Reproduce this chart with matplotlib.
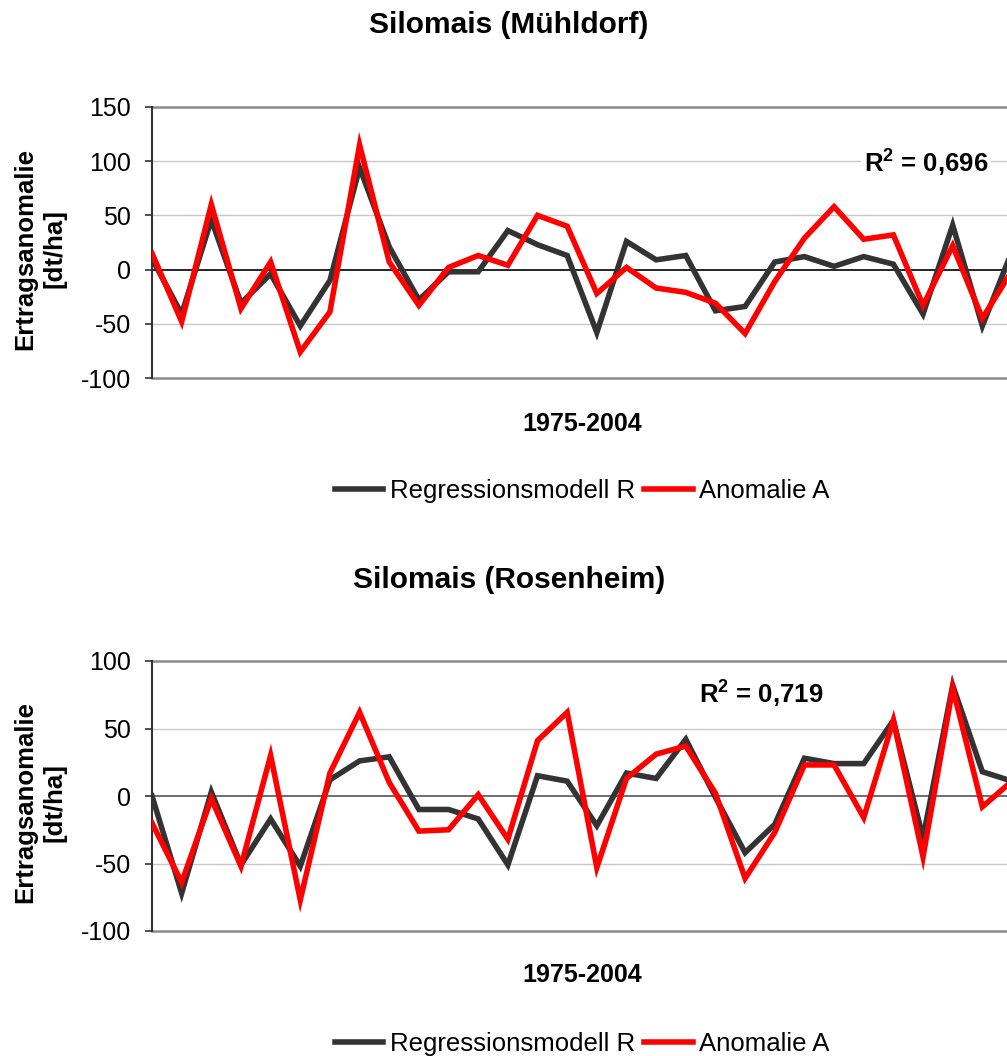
import numpy as np
import matplotlib
matplotlib.use("Agg")
import matplotlib.pyplot as plt

plt.rcParams['font.family'] = ['Liberation Sans', 'DejaVu Sans']
plt.rcParams['mathtext.fontset'] = 'custom'
plt.rcParams['mathtext.bf'] = 'Liberation Sans:bold'
plt.rcParams['mathtext.rm'] = 'Liberation Sans'

years = np.arange(1975, 2005)

# Silomais (Muehldorf)
muehl_regr = [10, -41, 46, -31, -4, -52, -10, 94, 21, -28, -2, -2, 36, 23, 13,
              -58, 26, 9, 13, -38, -34, 7, 12, 3, 12, 5, -41, 41, -52, 17]
muehl_anom = [15, -48, 60, -36, 7, -76, -39, 115, 7, -33, 2, 13, 4, 50, 40,
              -22, 2, -17, -21, -31, -59, -11, 29, 58, 28, 32, -33, 22, -45, -1]

# Silomais (Rosenheim)
rosen_regr = [0, -72, 3, -51, -17, -52, 12, 26, 29, -10, -10, -17, -51, 15, 11,
              -22, 17, 13, 42, -1, -42, -21, 28, 24, 24, 56, -31, 82, 18, 11]
rosen_anom = [-20, -64, -2, -52, 30, -77, 17, 62, 10, -26, -25, 1, -32, 41, 62,
              -53, 13, 31, 37, 2, -61, -27, 23, 23, -16, 56, -45, 80, -8, 11]

W, H = 1007, 1056
fig = plt.figure(figsize=(W / 100, H / 100), dpi=100)


def fx(px):
    return px / W


def fy(py):
    return 1 - py / H


def panel(top, bottom, ymin, ymax, regr, anom, title, title_y, xlab_y, leg_y,
          r2_val, r2_pos, zero_col):
    ax = fig.add_axes([fx(152), fy(bottom), (1012 - 152) / W, (bottom - top) / H])
    ax.set_xlim(1975, 2004)
    ax.set_ylim(ymin, ymax)
    ticks = np.arange(ymin, ymax + 1, 50)
    ax.set_yticks(ticks)
    ax.set_yticklabels([str(t) for t in ticks], fontsize=18)
    ax.set_xticks([])
    for t in ticks:
        if t in (ymin, ymax):
            ax.axhline(t, color='#8a8a8a', lw=1.8, zorder=1, clip_on=False)
        elif t == 0:
            ax.axhline(t, color=zero_col, lw=1.2, zorder=1)
        else:
            ax.axhline(t, color='#c8c8c8', lw=1.0, zorder=1)
    for s in ('top', 'right', 'bottom'):
        ax.spines[s].set_visible(False)
    ax.spines['left'].set_color('#333333')
    ax.spines['left'].set_linewidth(1.5)
    ax.tick_params(axis='y', length=5, width=1.2, color='#333333', pad=10)

    l1, = ax.plot(years, regr, color='#333333', lw=4.0,
                  label='Regressionsmodell R', solid_joinstyle='miter', zorder=3)
    l2, = ax.plot(years, anom, color='#ff0000', lw=4.0, label='Anomalie A',
                  solid_joinstyle='miter', zorder=4)

    ax.text(r2_pos[0], r2_pos[1], r'R$^{\mathbf{2}}$ = ' + r2_val,
            fontsize=18.5, fontweight='bold',
            ha='center', va='center', zorder=5,
            bbox=dict(facecolor='white', edgecolor='none', pad=2))

    fig.text(fx(509), fy(title_y), title, fontsize=21.5, fontweight='bold',
             ha='center', va='center')
    fig.text(fx(582), fy(xlab_y), '1975-2004', fontsize=18, fontweight='bold',
             ha='center', va='center')
    fig.text(fx(40), fy((top + bottom) / 2 + 6), 'Ertragsanomalie\n[dt/ha]',
             fontsize=18.5, fontweight='bold', rotation=90, ha='center',
             va='center', multialignment='center', linespacing=1.3)
    fig.legend(handles=[l1, l2], loc='center',
               bbox_to_anchor=(fx(582), fy(leg_y)), ncol=2, frameon=False,
               fontsize=18.5, handlelength=1.9, handletextpad=0.25,
               columnspacing=0.35, borderaxespad=0, borderpad=0)
    return ax


panel(107, 378, -100, 150, muehl_regr, muehl_anom, 'Silomais (Mühldorf)',
      25, 424, 491, '0,696', (2001.1, 99), 'black')
panel(661, 931, -100, 100, rosen_regr, rosen_anom, 'Silomais (Rosenheim)',
      580, 975, 1044, '0,719', (1995.55, 76), '#555555')

fig.savefig('out.png', dpi=100)
